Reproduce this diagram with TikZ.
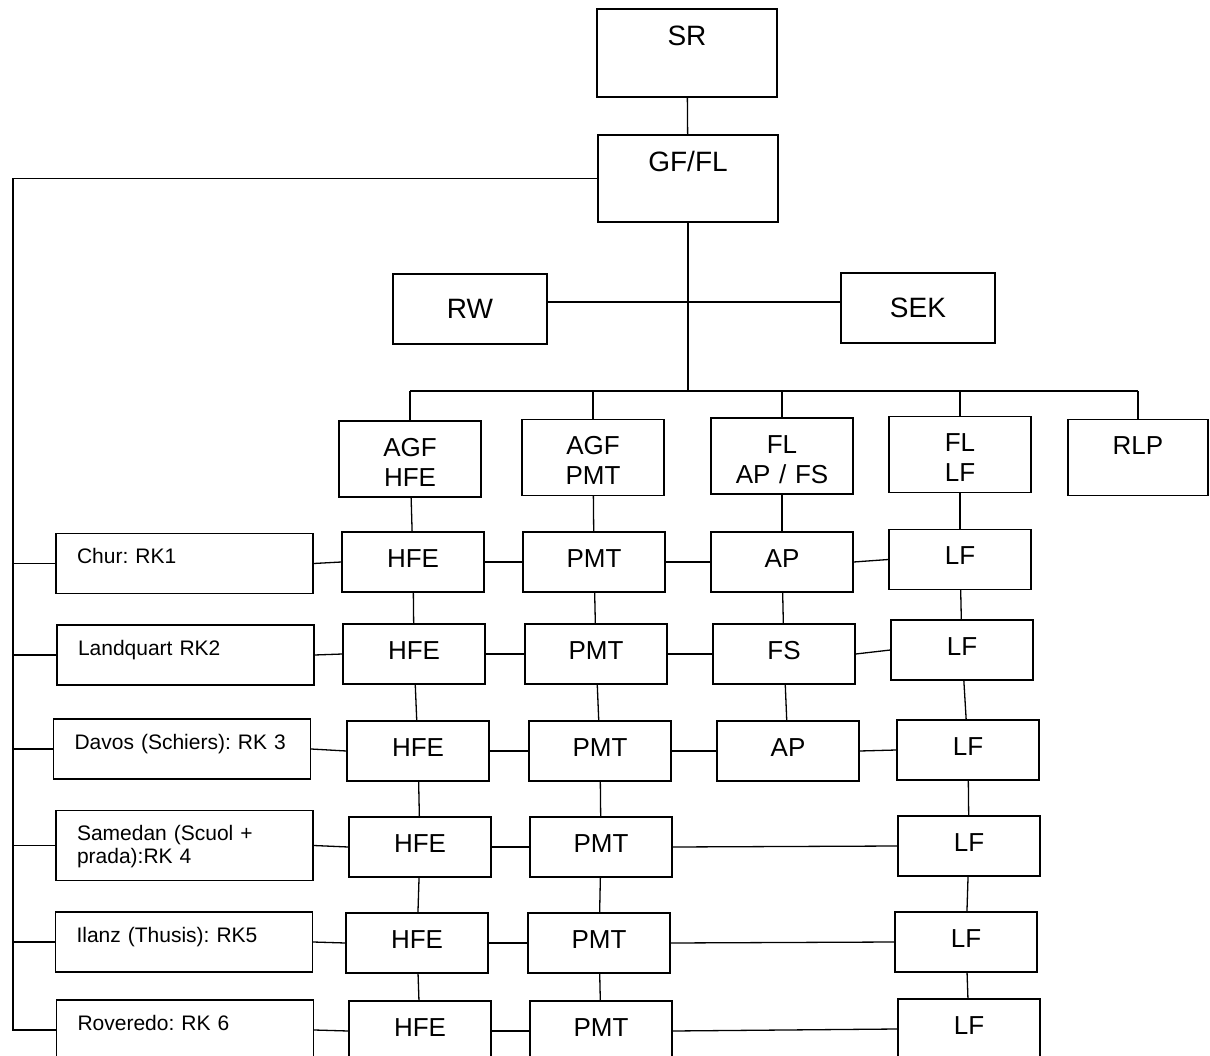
\documentclass[tikz,border=0pt]{standalone}
\usepackage{fontspec}
\setmainfont{Liberation Sans}
\usepackage{tikz}
\usetikzlibrary{positioning}
\frenchspacing

\tikzset{
    unit/.style={draw, line width=1.3pt, inner sep=0pt, text width=142pt, align=center,
        text height=35pt, text depth=25pt, font=\fontsize{26}{30}\selectfont},
    head/.style={unit, text depth=41pt},
    chief/.style={unit, text width=180pt, text height=37pt, text depth=51pt, font=\fontsize{28}{32}\selectfont},
    staff/.style={draw, line width=1.3pt, inner sep=0pt, minimum width=154pt, minimum height=70pt,
        font=\fontsize{28}{32}\selectfont},
    region/.style={draw, line width=1.3pt, inner xsep=21pt, inner ysep=0pt, text width=215pt, align=left,
        text height=30pt, text depth=30pt, font=\fontsize{21}{23}\selectfont},
    link/.style={line width=1.3pt}
}

\begin{document}
\begin{tikzpicture}[x=1pt, y=-1pt]
    \useasboundingbox (0,0) rectangle (1210,1056);
    \clip (0,0) rectangle (1210,1056);

    % === TOP ===
    \node[chief] (sr) at (687,53) {SR};
    \node[chief, text depth=50pt] (gffl) at (688,178.5) {GF/FL};
    \node[staff] (rw) at (470,309) {RW};
    \node[staff] (sek) at (918,308) {SEK};

    % === HEADS OF UNITS ===
    \node[head] (agfhfe) at (410,459) {AGF\\HFE};
    \node[head] (agfpmt) at (593,457.5) {AGF\\PMT};
    \node[head] (flapfs) at (782,456) {FL\\AP / FS};
    \node[head] (fllf) at (960,454.5) {FL\\LF};
    \node[head, text width=140pt] (rlp) at (1138,457.5) {RLP};

    % === REGIONS ===
    \node[region] (chur) at (184.5,563.5) {Chur: RK1};
    \node[region] (landquart) at (185.5,655) {Landquart RK2};
    \node[region] (davos) at (182,749) {Davos (Schiers): RK 3};
    \node[region, text depth=40.5pt] (samedan) at (184.5,845.5) {Samedan (Scuol +\\prada):RK 4};
    \node[region] (ilanz) at (184,942) {Ilanz (Thusis): RK5};
    \node[region] (roveredo) at (185,1030) {Roveredo: RK 6};

    % === UNITS PER REGION ===
    \foreach \i/\y/\xh/\xp/\xl/\yl in {1/562/413/594/960/559.5, 2/654/414/596/962/650,
        3/751/418/600/968/750, 4/847/420/601/969/846, 5/943/417/599/966/942, 6/1031/420/601/969/1029} {
        \node[unit] (hfe\i) at (\xh,\y) {HFE};
        \node[unit] (pmt\i) at (\xp,\y) {PMT};
        \node[unit] (lf\i) at (\xl,\yl) {LF};
    }
    \node[unit] (ap1) at (782,562) {AP};
    \node[unit] (fs2) at (784,654) {FS};
    \node[unit] (ap3) at (788,751) {AP};

    % === CONNECTIONS ===
    \coordinate (bus) at (690,391);
    \coordinate (spine) at (13,1031);

    \draw[link] (sr) -- (gffl);
    \draw[link] (gffl.south) -- (gffl.south |- bus);
    \draw[link] ([yshift=7pt]rw.east) -- ([yshift=6pt]sek.west);
    \draw[link] (agfhfe.north |- bus) -- (rlp.north |- bus);
    \foreach \c in {agfhfe, agfpmt, flapfs, fllf, rlp}
        \draw[link] (\c.north) -- (\c.north |- bus);

    \draw[link] (gffl.west) -| (spine);
    \foreach \r in {chur, landquart, davos, samedan, ilanz, roveredo}
        \draw[link] (\r.west) -- (\r.west -| spine);

    % columns
    \draw[link] (agfhfe) -- (hfe1);
    \draw[link] (agfpmt) -- (pmt1);
    \draw[link] (fllf) -- (lf1);
    \draw[link] (flapfs) -- (ap1);
    \draw[link] (ap1) -- (fs2);
    \draw[link] (fs2) -- (ap3);
    \foreach \i/\j in {1/2, 2/3, 3/4, 4/5, 5/6} {
        \draw[link] (hfe\i) -- (hfe\j);
        \draw[link] (pmt\i) -- (pmt\j);
        \draw[link] (lf\i) -- (lf\j);
    }

    % rows
    \foreach \r/\i in {chur/1, landquart/2, davos/3, samedan/4, ilanz/5, roveredo/6} {
        \draw[link] (\r.east) -- (hfe\i.west);
        \draw[link] (hfe\i.east) -- (pmt\i.west);
    }
    \draw[link] (pmt1.east) -- (ap1.west);
    \draw[link] (ap1.east) -- (lf1.west);
    \draw[link] (pmt2.east) -- (fs2.west);
    \draw[link] (fs2.east) -- (lf2.west);
    \draw[link] (pmt3.east) -- (ap3.west);
    \draw[link] (ap3.east) -- (lf3.west);
    \foreach \i in {4, 5, 6}
        \draw[link] (pmt\i.east) -- (lf\i.west);
\end{tikzpicture}
\end{document}
